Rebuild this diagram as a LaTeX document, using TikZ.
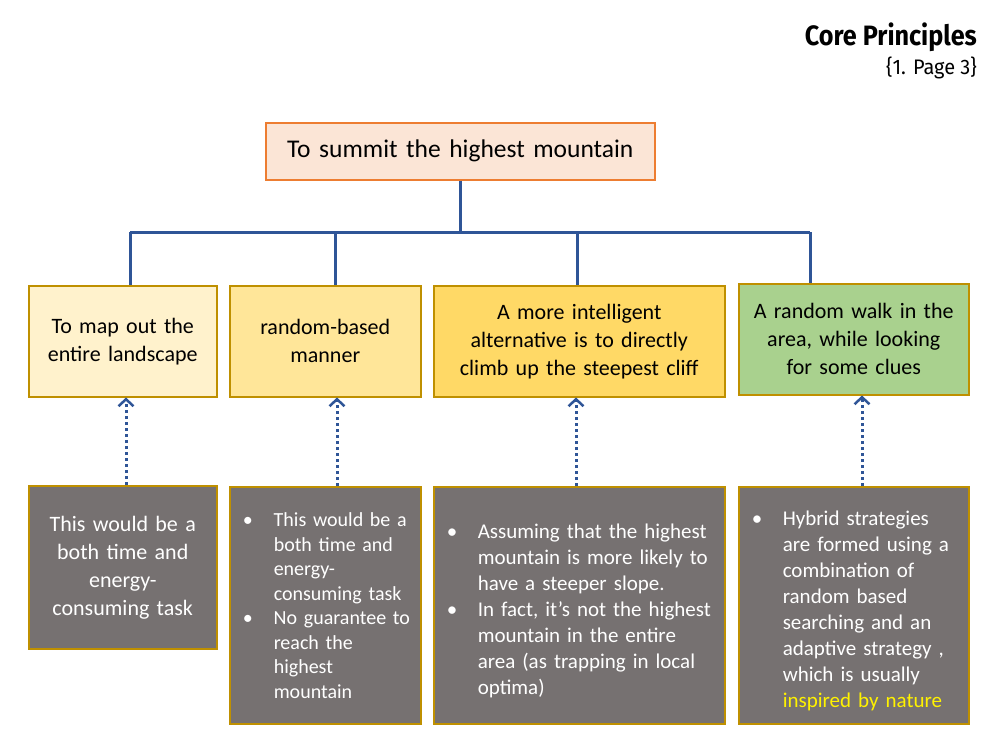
\documentclass[tikz,border=0pt]{standalone}
\usepackage{fontspec}
\setmainfont{Carlito}
\newfontfamily\titlefont[FakeStretch=0.9]{Fira Sans}
\newfontfamily\srcfont[FakeStretch=0.95]{Fira Sans}
\usetikzlibrary{arrows.meta}
\definecolor{linkblue}{HTML}{2F5597}
\definecolor{goalfill}{HTML}{FBE5D6}
\definecolor{goalline}{HTML}{ED7D31}
\definecolor{goldline}{HTML}{BF9000}
\definecolor{wayone}{HTML}{FFF2CC}
\definecolor{waytwo}{HTML}{FFE699}
\definecolor{waythree}{HTML}{FFD966}
\definecolor{wayfour}{HTML}{A9D18E}
\definecolor{boxgrey}{HTML}{767171}
\hyphenpenalty=10000
\tikzset{
    box/.style={draw=goldline, line width=1.5pt, anchor=north west, inner xsep=12pt, inner ysep=4pt, align=center},
    note/.style={box, fill=boxgrey, text=white},
    bullets/.style={note, inner xsep=8pt, align=left},
    tree/.style={draw=linkblue, line width=3pt},
    hint/.style={draw=linkblue, line width=3pt, dash pattern=on 3pt off 3pt, -{Straight Barb[length=7pt,width=15pt,line width=2.5pt]}}
}
\newcommand\bpt[1]{\par\hangindent=36pt\hangafter=1\noindent\hbox to 36pt{\hspace{5pt}\textbullet\hfil}#1\par}
\begin{document}
\begin{tikzpicture}[x=1pt,y=-1pt]
    \useasboundingbox (0,0) rectangle (1000,750);
    % heading
    \node[anchor=base east, inner sep=0pt] (head) at (977,45) {\titlefont\bfseries\fontsize{28}{32}\selectfont Core Principles};
    \node[anchor=base east, inner sep=0pt] (src) at (977,74) {\srcfont\fontsize{21}{24}\selectfont \{1. Page 3\}};
    % goal and the four ways
    \node[box, draw=goalline, fill=goalfill, minimum height=57pt, text width=365pt, font=\fontsize{25.5}{30}\selectfont] (goal) at (265,122) {To summit the highest mountain};
    \begin{scope}[every node/.append style={minimum height=111pt, font=\fontsize{22}{28}\selectfont}]
        \node[box, fill=wayone, text width=164pt] (m1) at (28,285) {To map out the\\entire landscape};
        \node[box, fill=waytwo, text width=167pt] (m2) at (229,285) {random-based\\manner};
        \node[box, fill=waythree, text width=267pt] (m3) at (433,285) {A more intelligent\\alternative is to directly\\climb up the steepest cliff};
        \node[box, fill=wayfour, text width=206pt] (m4) at (738,283) {A random walk in the\\area, while looking\\for some clues};
    \end{scope}
    % notes under each way
    \node[note, minimum height=163pt, text width=164pt, font=\fontsize{22}{28}\selectfont] (b1) at (28,485) {This would be a\\both time and\\energy-\\consuming task};
    \begin{scope}[every node/.append style={minimum height=237pt}]
        \node[bullets, text width=175pt, font=\fontsize{20}{24.5}\selectfont] (b2) at (229,486) {\bpt{This would be a\newline both time and\newline energy-\newline consuming task}\bpt{No guarantee to\newline reach the\newline highest\newline mountain}\vspace{10pt}};
        \node[bullets, text width=275pt, font=\fontsize{21}{26}\selectfont] (b3) at (433,486) {\bpt{Assuming that the highest\newline mountain is more likely to\newline have a steeper slope.}\bpt{In fact, it’s not the highest\newline mountain in the entire\newline area (as trapping in local\newline optima)}};
        \node[bullets, text width=214pt, font=\fontsize{21}{26}\selectfont] (b4) at (738,486) {\bpt{Hybrid strategies\newline are formed using a\newline combination of\newline random based\newline searching and an\newline adaptive strategy ,\newline which is usually\newline \textcolor{yellow}{inspired by nature}}};
    \end{scope}
    % tree
    \coordinate (j1) at (130,232);
    \coordinate (j2) at (335,232);
    \coordinate (j3) at (577,232);
    \coordinate (j4) at (810,232);
    \draw[tree] (goal.south) -- (goal.south |- j1);
    \draw[tree] (j1) -- (j4);
    \draw[tree] (j1) -- (j1 |- m1.north);
    \draw[tree] (j2) -- (j2 |- m2.north);
    \draw[tree] (j3) -- (j3 |- m3.north);
    \draw[tree] (j4) -- (j4 |- m4.north);
    % dotted hints
    \draw[hint] (b1.north -| 126,0) -- (m1.south -| 126,0);
    \draw[hint] (b2.north -| 337,0) -- (m2.south -| 337,0);
    \draw[hint] (b3.north -| 576,0) -- (m3.south -| 576,0);
    \draw[hint] (b4.north -| 862,0) -- (m4.south -| 862,0);
\end{tikzpicture}
\end{document}
